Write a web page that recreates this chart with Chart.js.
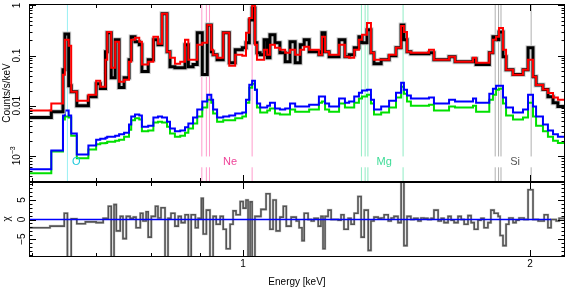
<!DOCTYPE html>
<html>
<head>
<meta charset="utf-8">
<script src="https://cdn.jsdelivr.net/npm/chart.js@4.4.0/dist/chart.umd.min.js"></script>
<style>
  html, body { margin: 0; padding: 0; background: #fff; }
  #wrap { position: relative; width: 566px; height: 288px; }
  #wrap canvas { position: absolute; left: 0; top: 0; }
</style>
</head>
<body>
<div id="wrap">
  <canvas id="spec" width="566" height="288"></canvas>
  <canvas id="resid" width="566" height="288"></canvas>
</div>
<script>
'use strict';

// spectrum bins: lower edges in keV, last entry closes the final bin
const specEdges = [
    0.596, 0.629, 0.647, 0.650, 0.656, 0.660, 0.669, 0.688, 0.701, 0.708,
    0.717, 0.720, 0.727, 0.734, 0.741, 0.750, 0.759, 0.763, 0.770, 0.778,
    0.783, 0.795, 0.805, 0.814, 0.822, 0.832, 0.838, 0.848, 0.859, 0.869,
    0.876, 0.886, 0.895, 0.906, 0.917, 0.926, 0.930, 0.939, 0.953, 0.967,
    0.981, 0.998, 1.007, 1.015, 1.022, 1.029, 1.034, 1.042, 1.052, 1.060,
    1.067, 1.080, 1.093, 1.107, 1.120, 1.134, 1.148, 1.159, 1.173, 1.201,
    1.210, 1.219, 1.231, 1.261, 1.279, 1.292, 1.308, 1.323, 1.333, 1.349,
    1.362, 1.372, 1.396, 1.423, 1.447, 1.465, 1.475, 1.486, 1.500, 1.567,
    1.586, 1.645, 1.669, 1.743, 1.756, 1.813, 1.829, 1.843, 1.856, 1.874,
    1.888, 1.920, 1.967, 1.991, 2.015, 2.030, 2.064, 2.089, 2.115, 2.140,
    2.172
];

// observed rate (black), counts/s/keV
const dataRate = [
    0.0058, 0.0076, 0.052, 0.27, 0.025, 0.019, 0.010, 0.015, 0.0275, 0.022,
    0.119, 0.284, 0.036, 0.206, 0.023, 0.036, 0.083, 0.237, 0.188, 0.164,
    0.048, 0.083, 0.206, 0.164, 0.68, 0.119, 0.060, 0.057, 0.057, 0.164,
    0.060, 0.066, 0.284, 0.042, 0.41, 0.119, 0.104, 0.083, 0.284, 0.072,
    0.130, 0.143, 0.180, 0.515, 0.89, 0.180, 0.114, 0.104, 0.206, 0.090,
    0.259, 0.180, 0.114, 0.075, 0.188, 0.072, 0.164, 0.206, 0.119, 0.104,
    0.284, 0.119, 0.095, 0.206, 0.095, 0.104, 0.143, 0.237, 0.180, 0.326,
    0.114, 0.069, 0.083, 0.099, 0.143, 0.41, 0.206, 0.119, 0.109, 0.114,
    0.083, 0.095, 0.075, 0.086, 0.066, 0.114, 0.237, 0.206, 0.297, 0.095,
    0.052, 0.042, 0.052, 0.143, 0.038, 0.026, 0.021, 0.015, 0.0115, 0.0096
];

// total model (red)
const modelRate = [
    0.0080, 0.0110, 0.0415, 0.206, 0.157, 0.019, 0.0126, 0.0166, 0.0315, 0.024,
    0.083, 0.297, 0.057, 0.188, 0.030, 0.033, 0.075, 0.206, 0.226, 0.188,
    0.066, 0.075, 0.237, 0.172, 0.68, 0.119, 0.090, 0.069, 0.075, 0.206,
    0.083, 0.083, 0.164, 0.180, 0.41, 0.130, 0.104, 0.090, 0.284, 0.063,
    0.104, 0.099, 0.284, 0.56, 1.0, 0.164, 0.083, 0.083, 0.130, 0.104,
    0.164, 0.143, 0.130, 0.114, 0.130, 0.104, 0.130, 0.150, 0.130, 0.104,
    0.237, 0.119, 0.104, 0.164, 0.095, 0.090, 0.130, 0.206, 0.259, 0.449,
    0.114, 0.083, 0.083, 0.104, 0.143, 0.39, 0.297, 0.119, 0.114, 0.130,
    0.083, 0.095, 0.075, 0.090, 0.072, 0.114, 0.206, 0.237, 0.357, 0.130,
    0.052, 0.0415, 0.052, 0.083, 0.038, 0.026, 0.021, 0.018, 0.0145, 0.0132
];

// model component (blue)
const compBlue = [
    0.00054, 0.00128, 0.0064, 0.0080, 0.0064, 0.0028, 0.00106, 0.00161, 0.0021, 0.0022,
    0.0023, 0.0024, 0.0024, 0.0025, 0.0027, 0.0029, 0.0042, 0.0061, 0.0067, 0.0064,
    0.0038, 0.0040, 0.0058, 0.0061, 0.0058, 0.0048, 0.0035, 0.0031, 0.0032, 0.0037,
    0.0044, 0.0058, 0.0084, 0.0121, 0.0166, 0.0132, 0.0084, 0.0058, 0.0061, 0.0064,
    0.0070, 0.0073, 0.0132, 0.0263, 0.0315, 0.0209, 0.0110, 0.0092, 0.0092, 0.0100,
    0.0115, 0.0088, 0.0084, 0.0088, 0.0110, 0.0096, 0.0096, 0.0096, 0.0105, 0.0152,
    0.0152, 0.0110, 0.0096, 0.0139, 0.0115, 0.0121, 0.0152, 0.0182, 0.0200, 0.0209,
    0.0132, 0.0084, 0.0096, 0.0126, 0.0182, 0.0288, 0.0209, 0.0159, 0.0139, 0.0145,
    0.0110, 0.0132, 0.0121, 0.0139, 0.0115, 0.0174, 0.0219, 0.0251, 0.0251, 0.0145,
    0.0092, 0.0073, 0.0084, 0.0166, 0.0096, 0.0061, 0.0042, 0.0032, 0.0027, 0.0024
];

// model component (green)
const compGreen = [
    0.00045, 0.00122, 0.0053, 0.0061, 0.0058, 0.0025, 0.00089, 0.00134, 0.0017, 0.00177,
    0.0018, 0.0019, 0.0019, 0.0020, 0.0021, 0.0024, 0.0033, 0.0051, 0.0056, 0.0053,
    0.0031, 0.0032, 0.0046, 0.0048, 0.0046, 0.0038, 0.0028, 0.0024, 0.0025, 0.0029,
    0.0035, 0.0044, 0.0061, 0.0092, 0.0132, 0.0115, 0.0070, 0.0048, 0.0051, 0.0051,
    0.0056, 0.0061, 0.0115, 0.0229, 0.0275, 0.0209, 0.0092, 0.0073, 0.0073, 0.0080,
    0.0088, 0.0070, 0.0067, 0.0067, 0.0084, 0.0076, 0.0076, 0.0076, 0.0084, 0.0115,
    0.0121, 0.0084, 0.0076, 0.0110, 0.0092, 0.0092, 0.0115, 0.0139, 0.0152, 0.0166,
    0.0110, 0.0067, 0.0073, 0.0092, 0.0145, 0.0240, 0.0174, 0.0121, 0.0100, 0.0105,
    0.0080, 0.0096, 0.0092, 0.0100, 0.0076, 0.0132, 0.0166, 0.0209, 0.0219, 0.0110,
    0.0064, 0.0053, 0.0058, 0.0115, 0.0061, 0.0040, 0.0031, 0.0024, 0.0020, 0.0018
];

// residual bins (keV) and chi values
const residEdges = [
    0.596, 0.627, 0.649, 0.654, 0.660, 0.669, 0.683, 0.701, 0.713, 0.722,
    0.727, 0.732, 0.736, 0.743, 0.748, 0.754, 0.761, 0.767, 0.772, 0.780,
    0.785, 0.791, 0.795, 0.801, 0.809, 0.814, 0.820, 0.828, 0.834, 0.840,
    0.848, 0.855, 0.861, 0.869, 0.876, 0.882, 0.891, 0.897, 0.904, 0.908,
    0.915, 0.923, 0.930, 0.937, 0.946, 0.953, 0.960, 0.969, 0.976, 0.983,
    0.993, 1.000, 1.007, 1.012, 1.017, 1.022, 1.029, 1.044, 1.057, 1.067,
    1.075, 1.083, 1.093, 1.102, 1.110, 1.123, 1.137, 1.145, 1.153, 1.159,
    1.170, 1.179, 1.187, 1.199, 1.207, 1.213, 1.219, 1.228, 1.237, 1.258,
    1.267, 1.276, 1.289, 1.298, 1.308, 1.320, 1.330, 1.340, 1.353, 1.362,
    1.372, 1.386, 1.396, 1.406, 1.420, 1.430, 1.440, 1.454, 1.465, 1.475,
    1.486, 1.500, 1.511, 1.526, 1.537, 1.548, 1.563, 1.575, 1.586, 1.602,
    1.614, 1.625, 1.641, 1.653, 1.665, 1.681, 1.694, 1.706, 1.722, 1.735,
    1.748, 1.764, 1.777, 1.790, 1.807, 1.820, 1.834, 1.852, 1.861, 1.874,
    1.888, 1.901, 1.920, 1.934, 1.948, 1.972, 1.991, 2.015, 2.040, 2.070,
    2.089, 2.105, 2.131, 2.146, 2.172
];
const residChi = [
    -2.1, -1.7, 1.6, -9.6, 0.2, -1.1, -0.6, -0.8, 0.3, 3.4,
    -9.6, 3.8, -2.9, 0.8, -4.9, 0.8, 0.3, 0.6, -2.1, 1.6,
    -0.4, 2.0, -4.5, 0.8, 3.4, 0.4, 3.0, -9.6, 0.3, 1.6,
    -1.7, 0.8, -0.8, 1.2, -9.6, 1.2, -2.1, 0.3, 5.4, -3.7,
    2.4, -9.6, 0.8, -1.2, 0.8, -2.5, -7.5, -1.2, 2.2, 1.2,
    4.6, 2.9, 5.0, -9.6, 4.5, -9.6, 0.8, 2.6, 6.6, -2.5,
    5.0, -2.9, 0.6, 3.4, -1.7, 0.6, -0.4, -2.1, -5.4, 1.6,
    0, -0.4, 0.3, -1.7, 0.8, -7.5, 0.8, 2.4, 0, -0.2,
    1.2, -2.5, 0.3, -1.2, 1.6, 5.9, -4.5, 2.4, -7.9, -0.4,
    0.6, 0.3, 0.4, 1.2, -0.4, 0.4, 0.8, -0.8, 9.6, -6.7,
    0.8, 0, 0.3, -0.4, 0.4, 0.3, 0, 0.3, 2.4, -0.4,
    0.3, -0.8, 0.8, -0.2, -0.8, 0.8, 0, -1.2, 1.0, -0.8,
    -2.5, -0.2, 0.3, -2.1, -0.8, 2.4, 1.6, 0.8, -4.1, -6.7,
    -1.2, 0.4, -0.8, -0.2, 0.4, 0, 7.6, 0, -0.4, 1.2,
    -2.1, 0, -0.4, 0.3
];
const chiZeroSpan = [0.596, 2.105];

// emission line markers (keV)
const lineO = [0.654];
const lineNe = [0.905, 0.915, 0.922, 1.022];
const lineMg = [1.331, 1.343, 1.352, 1.472];
const lineSi = [1.839, 1.854, 1.865, 2.006];
const ionNames = ['O', 'Ne', 'Mg', 'Si'];
const ionLabelEnergy = [0.668, 0.969, 1.406, 1.930];
const ionLabelRate = 7.4e-4;
const markerGap = [5.9e-4, 9.7e-4];

// axes
const energyRange = [0.596, 2.177];
const rateRange = [3.1e-4, 1.07];
const chiRange = [-9.6, 9.6];
const energyMajor = [1, 2];
const energyMinor = [0.6, 0.7, 0.8, 0.9];
const energyTickLabels = ['1', '2'];
const rateMajor = [1, 0.1, 0.01, 0.001];
const rateMinor = [
    0.0004, 0.0005, 0.0006, 0.0007, 0.0008, 0.0009,
    0.002, 0.003, 0.004, 0.005, 0.006, 0.007, 0.008, 0.009,
    0.02, 0.03, 0.04, 0.05, 0.06, 0.07, 0.08, 0.09,
    0.2, 0.3, 0.4, 0.5, 0.6, 0.7, 0.8, 0.9
];
const rateTickLabels = ['1', '0.1', '0.01', '10^−3'];
const chiMajor = [-5, 0, 5];
const chiMinor = [-9, -8, -7, -6, -4, -3, -2, -1, 1, 2, 3, 4, 6, 7, 8, 9];
const chiTickLabels = ['−5', '0', '5'];

const FONT = '"Liberation Sans", Arial, Helvetica, sans-serif';

function stepPoints(edges, values) {
    const pts = values.map((v, i) => ({ x: edges[i], y: v }));
    pts.push({ x: edges[edges.length - 1], y: values[values.length - 1] });
    return pts;
}

function markerPoints(energies, gap) {
    const pts = [];
    energies.forEach(e => {
        if (gap) {
            pts.push({ x: e, y: rateRange[0] }, { x: e, y: gap[0] }, { x: e, y: null });
            pts.push({ x: e, y: gap[1] }, { x: e, y: rateRange[1] }, { x: e, y: null });
        } else {
            pts.push({ x: e, y: rateRange[0] }, { x: e, y: rateRange[1] }, { x: e, y: null });
        }
    });
    return pts;
}

function stepSet(data, color, width, order) {
    return {
        data, order, borderColor: color, borderWidth: width, stepped: true,
        pointRadius: 0, fill: false, borderJoinStyle: 'miter', borderCapStyle: 'butt'
    };
}

function markerSet(energies, color, gap) {
    return {
        data: markerPoints(energies, gap), order: 10, borderColor: color,
        borderWidth: 1, pointRadius: 0, spanGaps: false, fill: false
    };
}

function fillRotated(ctx, text, x, y, size) {
    ctx.save();
    ctx.translate(x, y);
    ctx.rotate(-Math.PI / 2);
    ctx.textAlign = 'center';
    ctx.textBaseline = 'middle';
    if (text.includes('^')) {
        const [base, exp] = text.split('^');
        ctx.font = `${size}px ${FONT}`;
        const wb = ctx.measureText(base).width;
        ctx.font = `${size - 3}px ${FONT}`;
        const we = ctx.measureText(exp).width;
        const start = -(wb + we) / 2;
        ctx.textAlign = 'left';
        ctx.font = `${size}px ${FONT}`;
        ctx.fillText(base, start, 0);
        ctx.font = `${size - 3}px ${FONT}`;
        ctx.fillText(exp, start + wb, -4);
    } else {
        ctx.font = `${size}px ${FONT}`;
        ctx.fillText(text, 0, 0);
    }
    ctx.restore();
}

// frame, inward ticks on all four sides and the text round each panel
const panelAxes = {
    id: 'panelAxes',
    afterDraw(chart, args, opts) {
        const { ctx, chartArea: a, scales: { x, y } } = chart;
        ctx.save();
        ctx.strokeStyle = '#000';
        ctx.lineWidth = 1;
        ctx.strokeRect(a.left + 0.5, a.top + 0.5, a.right - a.left - 1, a.bottom - a.top - 1);

        ctx.beginPath();
        const xTick = (v, len) => {
            const px = Math.round(x.getPixelForValue(v)) + 0.5;
            ctx.moveTo(px, a.top); ctx.lineTo(px, a.top + len);
            ctx.moveTo(px, a.bottom); ctx.lineTo(px, a.bottom - len);
        };
        const yTick = (v, len) => {
            const py = Math.round(y.getPixelForValue(v)) + 0.5;
            ctx.moveTo(a.left, py); ctx.lineTo(a.left + len, py);
            ctx.moveTo(a.right, py); ctx.lineTo(a.right - len, py);
        };
        energyMajor.forEach(v => xTick(v, 7));
        energyMinor.forEach(v => xTick(v, 4));
        opts.yMajor.forEach(v => yTick(v, 7));
        opts.yMinor.forEach(v => yTick(v, 3.5));
        ctx.stroke();

        ctx.fillStyle = '#000';
        opts.yMajor.forEach((v, i) => {
            fillRotated(ctx, opts.yLabels[i], opts.yLabelX, y.getPixelForValue(v), 10);
        });
        fillRotated(ctx, opts.title, 7, opts.titleY, 10);

        if (opts.energyLabels) {
            ctx.font = `10px ${FONT}`;
            ctx.textAlign = 'center';
            ctx.textBaseline = 'middle';
            energyMajor.forEach((v, i) => {
                ctx.fillText(energyTickLabels[i], x.getPixelForValue(v), 264);
            });
            ctx.fillText('Energy [keV]', (a.left + a.right) / 2, 282);
        }

        if (opts.ionLabels) {
            const colors = ['#1cc8dc', '#ee4499', '#3ddc97', '#555555'];
            ctx.font = `11px ${FONT}`;
            ctx.textAlign = 'center';
            ctx.textBaseline = 'middle';
            ionNames.forEach((name, i) => {
                ctx.fillStyle = colors[i];
                ctx.fillText(name, x.getPixelForValue(ionLabelEnergy[i]), y.getPixelForValue(ionLabelRate));
            });
        }
        ctx.restore();
    }
};

const baseOptions = {
    responsive: false,
    animation: false,
    devicePixelRatio: 1,
    events: [],
    plugins: { legend: { display: false }, tooltip: { enabled: false } }
};

new Chart(document.getElementById('spec'), {
    type: 'line',
    data: {
        datasets: [
            stepSet(stepPoints(specEdges, modelRate), '#ff0000', 2, 0),
            stepSet(stepPoints(specEdges, dataRate), '#000000', 3, 1),
            stepSet(stepPoints(specEdges, dataRate), '#cccccc', 5, 2),
            stepSet(stepPoints(specEdges, compBlue), '#0000ff', 2, 3),
            stepSet(stepPoints(specEdges, compGreen), '#00e000', 2, 4),
            markerSet(lineO, '#99f0f4', null),
            markerSet(lineNe, '#ff9ccc', markerGap),
            markerSet(lineMg, '#90ecc4', markerGap),
            markerSet(lineSi, '#b0b0b0', markerGap)
        ]
    },
    options: {
        ...baseOptions,
        layout: { padding: { left: 29, right: 1, top: 4, bottom: 106 } },
        scales: {
            x: { type: 'logarithmic', min: energyRange[0], max: energyRange[1], display: false },
            y: { type: 'logarithmic', min: rateRange[0], max: rateRange[1], display: false }
        },
        plugins: {
            ...baseOptions.plugins,
            panelAxes: {
                yMajor: rateMajor, yMinor: rateMinor, yLabels: rateTickLabels, yLabelX: 17,
                title: 'Counts/s/keV', titleY: 93, energyLabels: false, ionLabels: true
            }
        }
    },
    plugins: [panelAxes]
});

new Chart(document.getElementById('resid'), {
    type: 'line',
    data: {
        datasets: [
            {
                data: chiZeroSpan.map(e => ({ x: e, y: 0 })), order: 0,
                borderColor: '#0000ff', borderWidth: 1.5, pointRadius: 0
            },
            { ...stepSet(stepPoints(residEdges, residChi), '#555555', 1.6, 1), clip: 0 },
            { ...stepSet(stepPoints(residEdges, residChi), '#d0d0d0', 2.6, 2), clip: 0 }
        ]
    },
    options: {
        ...baseOptions,
        layout: { padding: { left: 29, right: 1, top: 182, bottom: 31 } },
        scales: {
            x: { type: 'logarithmic', min: energyRange[0], max: energyRange[1], display: false },
            y: { type: 'linear', min: chiRange[0], max: chiRange[1], display: false }
        },
        plugins: {
            ...baseOptions.plugins,
            panelAxes: {
                yMajor: chiMajor, yMinor: chiMinor, yLabels: chiTickLabels, yLabelX: 22,
                title: 'χ', titleY: 219, energyLabels: true, ionLabels: false
            }
        }
    },
    plugins: [panelAxes]
});
</script>
</body>
</html>
